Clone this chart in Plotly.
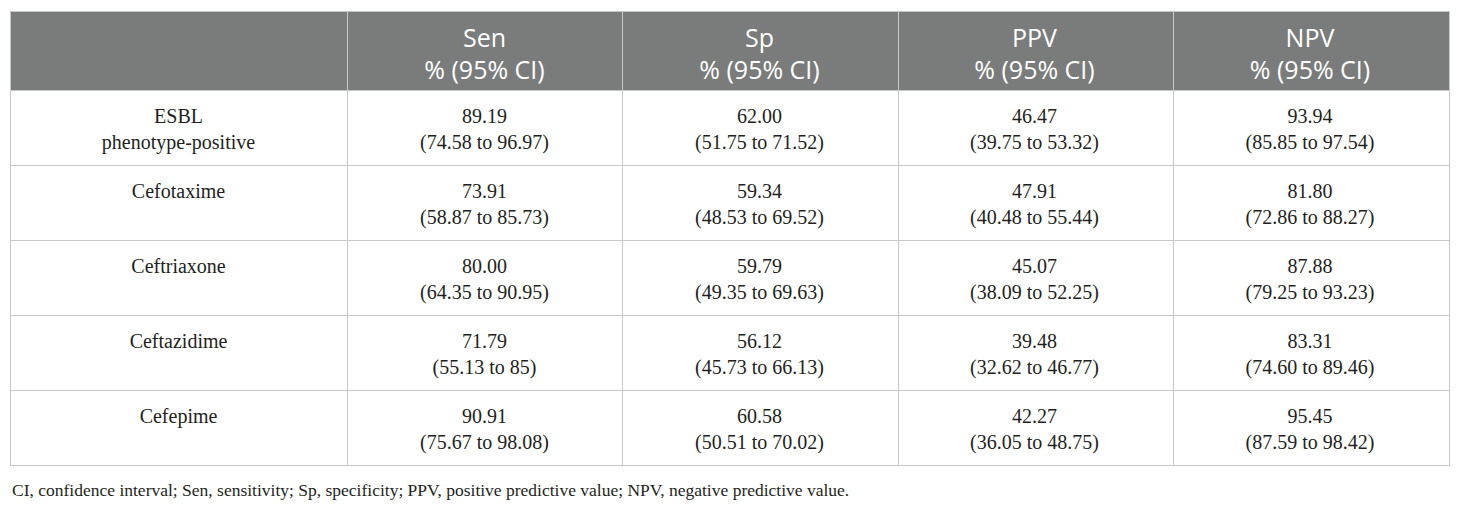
import plotly.graph_objects as go

# ---- data ----
row_line1 = ["ESBL", "Cefotaxime", "Ceftriaxone", "Ceftazidime", "Cefepime"]
row_line2 = ["phenotype-positive", "", "", "", ""]
metrics = ["Sen", "Sp", "PPV", "NPV"]
metric_unit = "% (95% CI)"

sen_est = ["89.19", "73.91", "80.00", "71.79", "90.91"]
sen_ci = ["74.58 to 96.97", "58.87 to 85.73", "64.35 to 90.95", "55.13 to 85", "75.67 to 98.08"]
sp_est = ["62.00", "59.34", "59.79", "56.12", "60.58"]
sp_ci = ["51.75 to 71.52", "48.53 to 69.52", "49.35 to 69.63", "45.73 to 66.13", "50.51 to 70.02"]
ppv_est = ["46.47", "47.91", "45.07", "39.48", "42.27"]
ppv_ci = ["39.75 to 53.32", "40.48 to 55.44", "38.09 to 52.25", "32.62 to 46.77", "36.05 to 48.75"]
npv_est = ["93.94", "81.80", "87.88", "83.31", "95.45"]
npv_ci = ["85.85 to 97.54", "72.86 to 88.27", "79.25 to 93.23", "74.60 to 89.46", "87.59 to 98.42"]

footnote = ("CI, confidence interval; Sen, sensitivity; Sp, specificity; PPV, positive predictive value; "
            "NPV, negative predictive value.")

# ---- layout constants ----
W, H = 1460, 505
OFF = 8  # page body margin
x0, x1 = 10 - OFF, 1449 - OFF
y0, y1 = 11 - OFF, 465 - OFF
colw = [337, 275, 275, 275, 276]
HDR_H, ROW_H = 79, 75
GRAY = "#7a7c7b"
GRID = "#c8c8c8"
TXT = "#231f20"
CLEAR = "rgba(0,0,0,0)"
hfont = dict(family="Open Sans", size=25, color="white")
cfont = dict(family="Liberation Serif", size=20, color=TXT)

n = len(row_line1)
ests = [sen_est, sp_est, ppv_est, npv_est]
cis = [sen_ci, sp_ci, ppv_ci, npv_ci]
empty_cols = [[""] * n for _ in range(5)]


def dom(shift, extra=0):
    return dict(x=[x0 / W, (x1 + extra) / W],
                y=[1 - (y1 + shift + extra) / H, 1 - (y0 + shift) / H])


def text_table(shift, header_vals, cell_vals):
    return go.Table(
        domain=dom(shift), columnwidth=colw,
        header=dict(values=header_vals, fill_color=CLEAR, line=dict(color=CLEAR, width=0),
                    font=hfont, align="center", height=HDR_H),
        cells=dict(values=cell_vals, fill_color=CLEAR, line=dict(color=CLEAR, width=0),
                   font=cfont, align="center", height=ROW_H),
    )


# base grid with fills (1px extra so the outer bottom border is visible)
base = go.Table(
    domain=dom(0, extra=1), columnwidth=colw,
    header=dict(values=[""] * 5, fill_color=GRAY, line=dict(color=GRID, width=1),
                font=hfont, height=HDR_H),
    cells=dict(values=empty_cols, fill_color="white", line=dict(color=GRID, width=1),
               font=cfont, height=ROW_H),
)

hdr1 = text_table(9, [""] + metrics, empty_cols)
hdr2 = text_table(41, [""] + [metric_unit] * len(metrics), empty_cols)
cel1 = text_table(10, [""] * 5, [row_line1] + ests)
cel2 = text_table(36, [""] * 5, [row_line2] + [["(" + c + ")" for c in col] for col in cis])

fig = go.Figure([base, hdr1, hdr2, cel1, cel2])

fig.add_annotation(
    text=footnote, x=x0 / W, y=1 - (490 - OFF) / H, xref="paper", yref="paper",
    xanchor="left", yanchor="middle", showarrow=False,
    font=dict(family="Liberation Serif", size=17.5, color=TXT),
)

fig.update_layout(width=W, height=H, margin=dict(l=0, r=0, t=0, b=0),
                  paper_bgcolor="white", plot_bgcolor="white")

fig.write_html("out.html")
